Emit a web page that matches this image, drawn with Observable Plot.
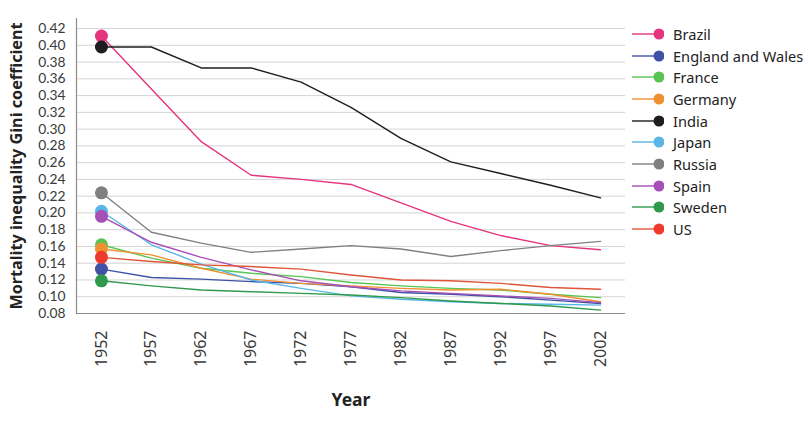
<!DOCTYPE html>
<html><head><meta charset="utf-8">
<script src="https://cdn.jsdelivr.net/npm/d3@7"></script>
<script src="https://cdn.jsdelivr.net/npm/@observablehq/plot@0.6"></script>
<style>
body{margin:0;background:#fff;font-family:"Noto Sans",sans-serif;}
#wrap{position:relative;width:809px;height:423px;overflow:hidden;}
#legend{position:absolute;left:630px;top:23px;}
.row{display:flex;align-items:center;height:21.7px;font-size:14.6px;color:#222;white-space:nowrap;}
.row svg{margin-right:9px;}
</style></head><body>
<div id="wrap"><div id="chart"></div><div id="legend"></div></div>
<script>
const years = [1952,1957,1962,1967,1972,1977,1982,1987,1992,1997,2002];
const countries = ["Brazil","England and Wales","France","Germany","India","Japan","Russia","Spain","Sweden","US"];
const colors = ["#e6337e","#3f52a8","#58c552","#ef9030","#1e1e1e","#5ab6e6","#808080","#a64fb6","#2f9a4c","#ee3a2c"];
const lineColors = ["#e6337e","#3f52a8","#58c552","#ef9030","#1e1e1e","#5ab6e6","#808080","#a64fb6","#2f9a4c","#e0553a"];
const brazil  = [0.411,0.348,0.285,0.245,0.240,0.234,0.212,0.190,0.173,0.161,0.156];
const england = [0.133,0.123,0.121,0.118,0.116,0.112,0.105,0.103,0.100,0.096,0.092];
const france  = [0.162,0.146,0.134,0.128,0.124,0.117,0.113,0.110,0.108,0.103,0.099];
const germany = [0.157,0.150,0.134,0.121,0.116,0.113,0.110,0.108,0.109,0.103,0.094];
const india   = [0.398,0.398,0.373,0.373,0.356,0.326,0.289,0.261,0.247,0.233,0.218];
const japan   = [0.202,0.162,0.139,0.120,0.110,0.101,0.097,0.094,0.092,0.091,0.090];
const russia  = [0.224,0.177,0.164,0.153,0.157,0.161,0.157,0.148,0.155,0.161,0.166];
const spain   = [0.196,0.165,0.147,0.132,0.119,0.112,0.107,0.104,0.101,0.098,0.093];
const sweden  = [0.119,0.113,0.108,0.106,0.104,0.102,0.099,0.095,0.092,0.089,0.084];
const us      = [0.147,0.142,0.138,0.136,0.133,0.126,0.120,0.119,0.116,0.111,0.109];
const yTicks = [0.08,0.10,0.12,0.14,0.16,0.18,0.20,0.22,0.24,0.26,0.28,0.30,0.32,0.34,0.36,0.38,0.40,0.42];
const xDomain = [1949.5, 2004.5];
const yDomain = [0.08, 0.432];

const series = [brazil,england,france,germany,india,japan,russia,spain,sweden,us];
const data = [];
countries.forEach((c,i)=>years.forEach((y,j)=>data.push({country:c, year:y, value:series[i][j]})));
const first = data.filter(d=>d.year===years[0]);

const chart = Plot.plot({
  width: 630, height: 423,
  marginLeft: 76, marginRight: 5, marginTop: 18, marginBottom: 110,
  style: {fontFamily: "Noto Sans", fontSize: "14px", color: "#3a3a3a", background: "#fff"},
  x: {domain: xDomain},
  y: {domain: yDomain},
  color: {domain: countries, range: lineColors},
  marks: [
    Plot.gridY(yTicks.slice(1), {stroke: "#d4d4d4", strokeOpacity: 1, strokeWidth: 1}),
    Plot.ruleY([yDomain[0]], {stroke: "#8c8c8c", strokeWidth: 1.2}),
    Plot.ruleX([xDomain[0]], {stroke: "#8c8c8c", strokeWidth: 1.2}),
    Plot.axisY(yTicks, {tickSize: 0, tickPadding: 11, tickFormat: d3.format(".2f"), fontSize: 13.8,
      label: "Mortality inequality Gini coefficient", labelAnchor: "center", labelOffset: 66, labelArrow: "none"}),
    Plot.axisX(years, {tickSize: 0, tickPadding: 17, tickRotate: -90, tickFormat: "d", fontSize: 16,
      label: "Year", labelAnchor: "center", labelOffset: 92, labelArrow: "none"}),
    Plot.line(data, {x: "year", y: "value", z: "country", stroke: "country", strokeWidth: 1.4}),
    Plot.dot(first, {x: "year", y: "value", fill: (d)=>colors[countries.indexOf(d.country)], r: 6.5})
  ]
});
document.getElementById("chart").appendChild(chart);
d3.select(chart).selectAll('[aria-label="y-axis tick label"] text, [aria-label="y-axis tick label"]')
  .style("font-family", "Lato");
d3.select(chart).selectAll('[aria-label="y-axis label"] text')
  .style("font-weight", "bold").style("font-size", "16.2px").style("fill", "#222").style("font-family", "Noto Sans");
d3.select(chart).selectAll('[aria-label="x-axis label"] text')
  .style("font-weight", "bold").style("font-size", "17.5px").style("fill", "#222");

const legend = d3.select("#legend");
countries.forEach((c,i)=>{
  const row = legend.append("div").attr("class","row");
  const s = row.append("svg").attr("width",34).attr("height",14);
  s.append("line").attr("x1",2).attr("x2",29).attr("y1",7).attr("y2",7).attr("stroke",lineColors[i]).attr("stroke-width",1.4);
  s.append("circle").attr("cx",29).attr("cy",7).attr("r",5.5).attr("fill",colors[i]);
  row.append("span").text(c);
});
</script>
</body></html>
